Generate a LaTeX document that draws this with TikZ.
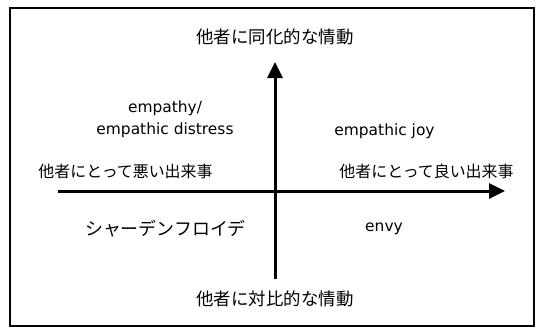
\documentclass[tikz,border=0pt]{standalone}
\usepackage{fontspec}
\setmainfont{DejaVu Sans}
\newfontfamily\jp{Noto Sans CJK JP}
\usetikzlibrary{arrows.meta}
\begin{document}
\begin{tikzpicture}[x=1bp,y=-1bp,
  axis/.style={line width=3bp,-{Triangle[length=16bp,width=15bp]}},
  frame/.style={line width=1.5bp},
  jlabel/.style={inner sep=0pt,font=\jp\fontsize{17.5}{20}\selectfont},
  jevent/.style={inner sep=0pt,font=\jp\fontsize{16}{19}\selectfont},
  elabel/.style={inner sep=0pt,align=center,font=\fontsize{15.5}{22}\selectfont}]
\useasboundingbox (0,0) rectangle (537,328);
\draw[frame] (10,8) rectangle (534,326);
\coordinate (vb) at (275,279);
\coordinate (vt) at (275,62);
\coordinate (hl) at (58,191);
\coordinate (hr) at (505,191);
\draw[axis] (vb) -- (vt);
\draw[axis] (hl) -- (hr);
\node[jlabel] (top) at (275,37) {他者に同化的な情動};
\node[jlabel] (bot) at (275,299) {他者に対比的な情動};
\node[elabel] (ed) at (165,119) {empathy/\\empathic distress};
\node[elabel] (ej) at (384.5,131) {empathic joy};
\node[jevent] (bad) at (125.5,171) {他者にとって悪い出来事};
\node[jevent] (good) at (426.5,171) {他者にとって良い出来事};
\node[jlabel,font=\jp\fontsize{18}{20}\selectfont] (sch) at (165.5,229) {シャーデンフロイデ};
\node[elabel] (envy) at (384,229) {envy};
\end{tikzpicture}
\end{document}
